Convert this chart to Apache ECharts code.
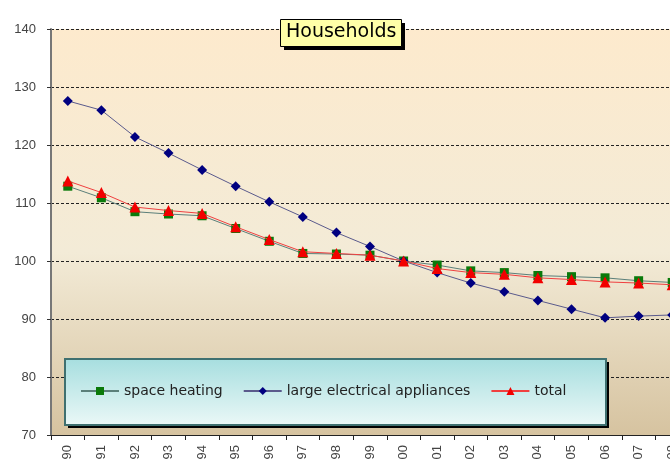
<!DOCTYPE html>
<html>
<head>
<meta charset="utf-8">
<script src="https://cdn.jsdelivr.net/npm/echarts@6/dist/echarts.min.js"></script>
<style>
  html, body { margin: 0; padding: 0; background: #fff; overflow: hidden; }
  #box { width: 700px; height: 464px; }
</style>
</head>
<body>
<div id="box"></div>
<script>
var years = ['90', '91', '92', '93', '94', '95', '96', '97', '98', '99',
             '00', '01', '02', '03', '04', '05', '06', '07', '08'];
var spaceHeating = [112.9, 110.9, 108.5, 108.1, 107.8, 105.6, 103.4, 101.3, 101.2, 101.0,
                    100, 99.3, 98.3, 98.0, 97.5, 97.3, 97.1, 96.6, 96.3];
var appliances = [127.6, 126.0, 121.4, 118.6, 115.7, 112.9, 110.2, 107.6, 104.9, 102.5,
                  100, 98.0, 96.2, 94.7, 93.2, 91.7, 90.2, 90.5, 90.7];
var total = [113.8, 111.8, 109.3, 108.7, 108.2, 105.9, 103.7, 101.6, 101.3, 101.0,
             100, 98.7, 98.0, 97.7, 97.1, 96.8, 96.4, 96.2, 95.9];

var myChart = echarts.init(document.getElementById('box'));

var option = {
  animation: false,
  backgroundColor: '#fff',
  textStyle: { fontFamily: 'Liberation Sans, Arial, sans-serif' },
  title: {
    text: 'Households',
    left: 281,
    top: 19,
    padding: [4, 5, 3, 5],
    z: 30,
    textStyle: { fontFamily: 'DejaVu Sans', fontSize: 19, fontWeight: 'normal', color: '#000' }
  },
  // frames for title and legend (shadow drawn as a separate black rect)
  graphic: [
    { type: 'rect', left: 284, top: 23, z: 25, shape: { width: 121, height: 27 }, style: { fill: '#000' } },
    { type: 'rect', left: 280, top: 19, z: 26, shape: { width: 121, height: 27 },
      style: { fill: '#ffffa8', stroke: '#000', lineWidth: 1 } },
    { type: 'rect', left: 68, top: 362, z: 10, shape: { width: 541, height: 66 }, style: { fill: '#000' } },
    { type: 'rect', left: 64, top: 358, z: 11, shape: { width: 541, height: 66 },
      style: {
        fill: {
          type: 'linear', x: 0, y: 0, x2: 0, y2: 1,
          colorStops: [{ offset: 0, color: '#a6dedf' }, { offset: 1, color: '#ebf8f7' }]
        },
        stroke: '#3f7070',
        lineWidth: 2
      }
    }
  ],
  legend: {
    left: 80,
    top: 384,
    padding: 0,
    itemWidth: 38,
    itemHeight: 10,
    itemGap: 20,
    z: 20,
    textStyle: { fontFamily: 'DejaVu Sans', fontSize: 14, color: '#222' },
    data: ['space heating', 'large electrical appliances', 'total']
  },
  grid: {
    left: 51,
    top: 29,
    width: 638,
    height: 406,
    show: true,
    borderWidth: 0,
    backgroundColor: {
      type: 'linear', x: 0, y: 0, x2: 0, y2: 1,
      colorStops: [
        { offset: 0, color: '#fdeacd' },
        { offset: 0.55, color: '#f3ebd7' },
        { offset: 1, color: '#d6c3a0' }
      ]
    }
  },
  xAxis: {
    type: 'category',
    data: years,
    boundaryGap: true,
    axisLine: { lineStyle: { color: '#222', width: 1 } },
    axisTick: { show: true, length: 5, lineStyle: { color: '#222' } },
    axisLabel: { rotate: 90, fontSize: 13, color: '#444', margin: 10 },
    splitLine: { show: false }
  },
  yAxis: {
    type: 'value',
    min: 70,
    max: 140,
    interval: 10,
    axisLine: { show: true, lineStyle: { color: '#777', width: 2 } },
    axisTick: { show: true, length: 6, lineStyle: { color: '#333', type: 'dashed' } },
    axisLabel: { fontSize: 13, color: '#444', margin: 15 },
    splitLine: { lineStyle: { color: '#222', type: [3, 2], width: 1 } }
  },
  series: [
    {
      name: 'space heating',
      type: 'line',
      data: spaceHeating,
      symbol: 'rect',
      symbolSize: 9,
      itemStyle: { color: '#0a7a0a' },
      lineStyle: { color: '#5b7f7a', width: 1 },
      z: 2
    },
    {
      name: 'large electrical appliances',
      type: 'line',
      data: appliances,
      symbol: 'diamond',
      symbolSize: 10,
      itemStyle: { color: '#000080' },
      lineStyle: { color: '#5a5a8c', width: 1 },
      z: 3
    },
    {
      name: 'total',
      type: 'line',
      data: total,
      symbol: 'triangle',
      symbolSize: 11,
      itemStyle: { color: '#f20000' },
      lineStyle: { color: '#f04040', width: 1 },
      z: 4
    }
  ]
};

myChart.setOption(option);
</script>
</body>
</html>
